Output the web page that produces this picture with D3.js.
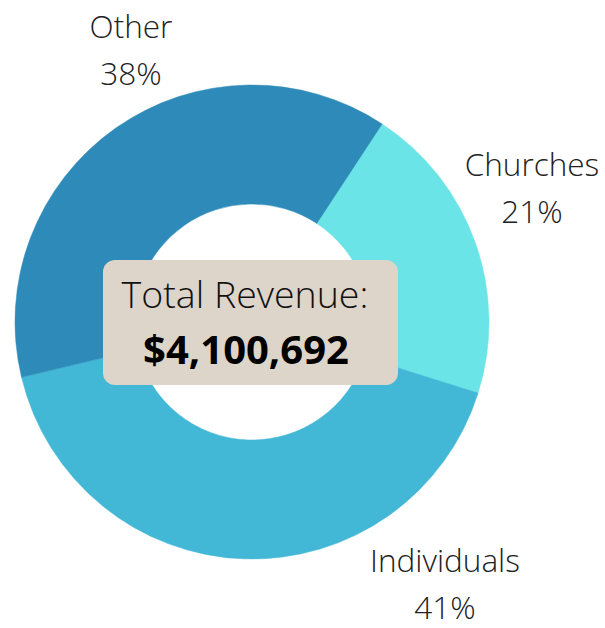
<!DOCTYPE html>
<html>
<head>
<meta charset="utf-8">
<script src="https://cdn.jsdelivr.net/npm/d3@7"></script>
<style>
  html, body { margin: 0; padding: 0; background: #fff; }
  svg { display: block; }
</style>
</head>
<body>
<svg id="chart" width="605" height="628"></svg>
<script>
// ---- data ----
const categories = ["Churches", "Individuals", "Other"];
const values = [20.6, 41.4, 38.0];          // share of total revenue (%)
const pctLabels = ["21%", "41%", "38%"];
const colors = ["#6ae4e7", "#42b7d6", "#2e8bb9"];
const totalTitle = "Total Revenue:";
const totalValue = "$4,100,692";

// ---- layout ----
const W = 605, H = 628;
const cx = 252, cy = 322;
const outerR = 237, innerR = 118;
const startDeg = 33.3;
const labelFont = "'Open Sans', 'Noto Sans', sans-serif";
// label anchor (centre x, first baseline y)
const labelPos = {
  "Churches":    [532, 176],
  "Individuals": [445, 572],
  "Other":       [131, 38]
};
const lineGap = 47;

const svg = d3.select("#chart");
const g = svg.append("g").attr("transform", `translate(${cx},${cy})`);

const start = startDeg * Math.PI / 180;
const pie = d3.pie().sort(null).value(d => d.value)
  .startAngle(start).endAngle(start + 2 * Math.PI);
const arc = d3.arc().innerRadius(innerR).outerRadius(outerR);
const color = d3.scaleOrdinal().domain(categories).range(colors);

const data = categories.map((c, i) => ({ name: c, value: values[i], pct: pctLabels[i] }));
const arcs = pie(data);

g.selectAll("path.slice").data(arcs).join("path")
  .attr("class", "slice")
  .attr("d", arc)
  .attr("fill", d => color(d.data.name))
  .attr("stroke", d => color(d.data.name))
  .attr("stroke-width", 0.5);

// labels
const lab = svg.selectAll("g.lab").data(arcs).join("g").attr("class", "lab");
lab.append("text")
  .attr("x", d => labelPos[d.data.name][0])
  .attr("y", d => labelPos[d.data.name][1])
  .attr("text-anchor", "middle")
  .style("font-family", labelFont).style("font-weight", 300)
  .style("font-size", "31.5px").attr("fill", "#222")
  .text(d => d.data.name);
lab.append("text")
  .attr("x", d => labelPos[d.data.name][0])
  .attr("y", d => labelPos[d.data.name][1] + lineGap)
  .attr("text-anchor", "middle")
  .style("font-family", labelFont).style("font-weight", 300)
  .style("font-size", "31.5px").attr("fill", "#222")
  .text(d => d.data.pct);

// centre box
const boxW = 295, boxH = 125;
g.append("rect")
  .attr("x", -boxW / 2 - 1.5).attr("y", -boxH / 2 + 0.5)
  .attr("width", boxW).attr("height", boxH)
  .attr("rx", 12).attr("ry", 12)
  .attr("fill", "#ddd5c9");
g.append("text")
  .attr("x", -7).attr("y", -14)
  .attr("text-anchor", "middle")
  .style("font-family", labelFont).style("font-weight", 300)
  .style("font-size", "37.5px").attr("fill", "#111")
  .text(totalTitle);
g.append("text")
  .attr("x", -6).attr("y", 42)
  .attr("text-anchor", "middle")
  .style("font-family", labelFont).style("font-weight", 700)
  .style("font-size", "40px").attr("fill", "#000")
  .text(totalValue);
</script>
</body>
</html>
